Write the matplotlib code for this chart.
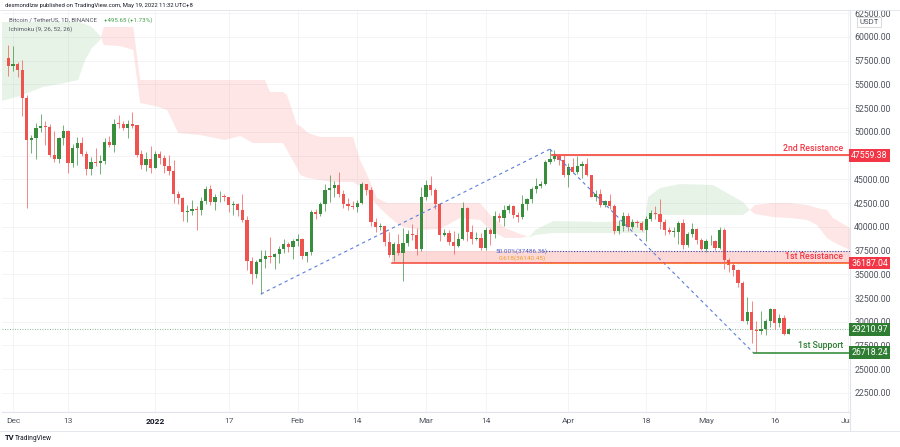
import numpy as np
import pandas as pd
import matplotlib
matplotlib.use('Agg')
import matplotlib.pyplot as plt
from matplotlib.transforms import Bbox, TransformedBbox

plt.rcParams['font.family'] = ['Roboto', 'DejaVu Sans']

# ---------------- data (BTC/USDT daily, Binance) ----------------
dates = pd.date_range('2021-11-30', '2022-05-19', freq='D')

opens = [57777,
	56950, 57184, 56484, 53601, 49152, 49397, 50441, 50589, 50471, 47535, 47140, 49389, 50053, 46702, 48336, 48864,
	47632, 46133, 46834, 46682, 46908, 48888, 48588, 50839, 50821, 50428, 50802, 50679, 47623, 46464, 47121,
	46216, 47722, 47286, 46446, 45833, 43451, 43082, 41566, 41679, 41864, 41822, 42735, 43949, 42592, 43099, 43177,
	43113, 42251, 42375, 41744, 40681, 36445, 35071, 36244, 36660, 36958, 36808, 37160, 37716, 38166, 37881,
	38466, 38694, 36896, 37311, 41571, 41382, 42380, 43839, 44043, 44373, 43495, 42373, 42217, 42053, 42535, 44544,
	43874, 40515, 39974, 40080, 38386, 37008, 38230, 37250, 38328, 39219, 39116, 37699,
	43160, 44421, 43892, 42455, 39148, 39397, 38420, 37988, 38730, 41941, 39422, 38730, 38807, 37777, 39671, 39280,
	41114, 40917, 41757, 42201, 41262, 41002, 42364, 42882, 43991, 44313, 44511, 46827, 47123, 47434, 47067,
	45511, 46283, 45811, 46407, 46581, 45497, 43170, 43444, 42252, 42753, 42158, 39530, 40074, 41147, 39942, 40552,
	40378, 39678, 40801, 41493, 41358, 40480, 39709, 39441, 39450, 40427, 38112, 39235, 39742, 38597,
	37631, 38469, 38525, 37729, 39690, 36552, 36013, 35472, 34039, 30074, 31017, 29104, 29030, 29287, 30102, 31305,
	29863, 30425, 28715]
highs = [59175,
	59053, 57375, 57600, 53859, 49699, 50891, 51936, 51200, 50797, 50125, 49485, 50777, 50189, 48700, 49500, 49436,
	47995, 47392, 48300, 47537, 49329, 49576, 51375, 51810, 51156, 51280, 52088, 50704, 48139, 47900, 48548,
	47954, 47990, 47570, 47557, 47070, 43816, 43145, 42300, 42786, 42248, 43100, 44322, 44459, 43459, 43800, 43476,
	43179, 42691, 42559, 43505, 41100, 36835, 36499, 37550, 37545, 38919, 37234, 38000, 38720, 38359, 38744,
	39265, 38856, 37387, 41772, 41913, 42656, 44500, 45492, 44799, 45821, 43920, 43000, 42760, 42876, 44751, 44549,
	44164, 40959, 40444, 40125, 39494, 38430, 39249, 39843, 39683, 40300, 39855, 44225,
	44949, 45400, 44102, 42527, 39794, 39640, 39547, 39362, 42594, 42039, 40236, 39486, 39310, 39947, 39887, 41718,
	41478, 42325, 42400, 42296, 41544, 43361, 43025, 44220, 45094, 44792, 46999, 48190, 48097, 47700, 47600,
	46720, 47213, 47444, 46890, 47200, 45507, 43900, 43970, 42800, 43410, 42414, 40699, 41561, 41500, 40870, 40709,
	40595, 41116, 41760, 42199, 42976, 40795, 39980, 39940, 40617, 40797, 39474, 40372, 39925, 38795,
	38675, 39167, 38651, 39980, 39845, 36675, 36146, 35514, 34244, 32658, 32162, 30033, 31083, 30343, 31460, 31305,
	30788, 30672, 29330]
lows = [55875,
	56458, 55777, 51680, 42000, 47727, 47100, 50039, 48600, 47320, 46852, 46751, 48638, 45672, 46290, 46547, 47511,
	45456, 45500, 46406, 45558, 46630, 48421, 47920, 50384, 50171, 49412, 50449, 47313, 46096, 45900, 45678,
	46208, 46654, 45696, 45500, 42500, 42430, 40610, 40501, 41200, 39650, 41268, 42451, 42311, 41725, 42578, 42693,
	41540, 41250, 41138, 40553, 35440, 34008, 34601, 32917, 35701, 36234, 35507, 36155, 37268, 37351, 36632,
	38000, 36586, 36250, 37026, 40843, 41116, 41645, 42666, 43117, 43174, 42000, 41748, 41867, 41570, 42427, 43307,
	40073, 39450, 39639, 38000, 36800, 36350, 37036, 34322, 38015, 38600, 37000, 37450,
	42809, 43334, 41832, 38550, 38988, 38088, 37155, 37867, 38656, 38540, 38223, 38660, 37578, 37555, 38098, 38828,
	40500, 40135, 41499, 40911, 40467, 40875, 41751, 42560, 43579, 44071, 44421, 46665, 46950, 46540, 45200,
	44200, 45620, 45530, 45118, 45353, 43121, 42727, 42107, 42125, 41868, 39200, 39254, 39588, 39551, 39766, 39991,
	39546, 38536, 40571, 40820, 39751, 39177, 39285, 38929, 38200, 37702, 37881, 38881, 38175, 37578,
	37386, 38052, 37517, 37670, 35571, 35258, 34785, 33713, 30033, 29730, 27785, 26700, 28751, 28630, 29480, 29192,
	29424, 28654, 28690]
closes = [56950,
	57184, 56480, 53601, 49152, 49397, 50441, 50588, 50471, 47545, 47140, 49389, 50053, 46702, 48343, 48864, 47632,
	46131, 46834, 46681, 46914, 48890, 48588, 50839, 50821, 50429, 50809, 50640, 47588, 46464, 47120, 46216,
	47722, 47286, 46446, 45833, 43452, 43083, 41566, 41679, 41864, 41822, 42735, 43949, 42592, 43099, 43177, 43113,
	42251, 42375, 41744, 40681, 36445, 35071, 36244, 36660, 36958, 36809, 37160, 37716, 38166, 37881, 38466,
	38694, 36896, 37311, 41574, 41382, 42380, 43839, 44043, 44372, 43495, 42373, 42217, 42053, 42535, 44544, 43873,
	40515, 39974, 40079, 38386, 37008, 38230, 37250, 38327, 39219, 39116, 37699, 43160,
	44421, 43892, 42455, 39148, 39397, 38420, 37988, 38730, 41941, 39422, 38730, 38807, 37777, 39671, 39281, 41114,
	40917, 41757, 42201, 41262, 41002, 42364, 42882, 43991, 44313, 44511, 46827, 47123, 47434, 47067, 45511,
	46283, 45811, 46407, 46580, 45497, 43170, 43444, 42252, 42753, 42158, 39530, 40074, 41147, 39942, 40552, 40378,
	39678, 40801, 41493, 41358, 40480, 39709, 39441, 39450, 40427, 38112, 39235, 39742, 38597, 37631,
	38468, 38525, 37729, 39690, 36552, 36014, 35472, 34038, 30077, 31017, 29104, 29031, 29287, 30102, 31305, 29862,
	30425, 28715, 29211]

# Ichimoku cloud (days since 1 Dec 2021)
cloud_days = [-2.4, 1.5, 6.5, 10.2, 14.2, 15.7, 17.2, 19.0, 19.8, 23.3, 26.2, 27.7, 31.0, 33.6, 36.0, 40.8,
	46.2, 49.5, 52.3, 54.9, 56.0, 58.8, 59.7, 61.9, 62.6, 64.3, 66.9, 69.7, 74.1, 75.6, 77.2, 79.3,
	81.5, 84.4, 88.7, 93.1, 97.4, 101.8, 104.0, 107.2, 110.5, 112.7, 113.8, 117.7, 128.0, 137.7, 138.4,
	141.0, 145.4, 152.6, 155.6, 159.1, 160.6, 161.7, 165.6, 169.3, 173.1, 175.2, 177.4, 178.7, 182.4]
span_a = [61580, 61580, 61580, 61580, 61580, 61370, 61054, 60105, 59157, 59052, 58630, 53047, 52731, 52310,
	49886, 49676, 49149, 49570, 48833, 48833, 48833, 48833, 48096, 46199, 45462, 45146, 44935, 44724, 44724,
	44303, 43670, 42301, 41248, 40089, 39668, 39773, 40932, 40721, 39668, 38825, 38825, 39035, 39668, 40616,
	40510, 40616, 43144, 44092, 44513, 44408, 43565, 42617, 41774, 41353, 41037, 40932, 40721, 40194, 38825,
	38403, 37561]
span_b = [53258, 53784, 54733, 55049, 55470, 57577, 58841, 59684, 61054, 61054, 61054, 55470, 55470, 55470,
	55470, 55470, 55470, 55470, 55470, 55470, 54206, 54206, 53890, 50729, 50624, 49886, 49465, 49465, 49465,
	47042, 45462, 43039, 42512, 42512, 42512, 42512, 42512, 42512, 41248, 39878, 39246, 38930, 39141, 39351,
	39351, 39351, 41248, 41248, 41248, 41248, 41248, 41248, 41774, 42301, 42512, 42512, 42301, 41985, 41774,
	40932, 39878]

# drawings
trend_days = [54, 117, 161.4]
trend_prices = [32917, 48190, 26718.24]
res2 = 47559.38
res1 = 36187.04
fib50 = 37486.36
fib618 = 36140.45
support1 = 26718.24
last_price = 29210.97

price_ticks = [22500, 25000, 27500, 30000, 32500, 35000, 37500, 40000, 42500, 45000,
	50000, 52500, 55000, 57500, 60000, 62500]
tick_days = [0, 12, 31, 47, 62, 75, 90, 103, 121, 138, 151, 166, 182]
tick_labels = ['Dec', '13', '2022', '17', 'Feb', '14', 'Mar', '14', 'Apr', '18', 'May', '16', 'Jun']

# ---------------- styling ----------------
GREEN = '#388e3c'
RED = '#ef5350'
LRED = '#f23645'
TXT = '#50535e'
GRID = '#f2f3f6'
BORDER = '#e0e3eb'

W, H = 900, 447
def fx(px): return px / W
def fy(py): return 1 - py / H

fig = plt.figure(figsize=(W / 100, H / 100), dpi=100)
fig.patch.set_facecolor('white')
ax = fig.add_axes([fx(2), fy(412), fx(850) - fx(2), fy(10) - fy(412)])

days = np.array([(d - pd.Timestamp('2021-12-01')).days for d in dates])
o = np.array(opens, float); h = np.array(highs, float)
l = np.array(lows, float); c = np.array(closes, float)

ax.set_xlim(-2.4, 182.4)
ax.set_ylim(20494, 62844)

# grid
for t in tick_days:
	ax.axvline(t, color=GRID, lw=0.6, zorder=0)
for p in price_ticks + [47500]:
	ax.axhline(p, color=GRID, lw=0.6, zorder=0)

# ichimoku cloud
ca = np.array(span_a, float); cb = np.array(span_b, float)
ax.fill_between(cloud_days, ca, cb, where=ca >= cb, interpolate=True, color='#43a047', alpha=0.12, lw=0, zorder=1)
ax.fill_between(cloud_days, ca, cb, where=ca < cb, interpolate=True, color='#f44336', alpha=0.13, lw=0, zorder=1)

# resistance zone
ax.fill_between([82.5, 182.4], [res1, res1], [fib50, fib50], color='#f44336', alpha=0.2, lw=0, zorder=1)

# candles
up = c >= o
cols = np.where(up, GREEN, RED)
ax.vlines(days, l, h, colors=cols, lw=0.7, alpha=0.7, zorder=3)
bot = np.minimum(o, c)
hgt = np.maximum(np.abs(c - o), 90)
ax.bar(days, hgt, bottom=bot, width=0.7, color=cols, lw=0, zorder=4)

# trend lines
ax.plot(trend_days[:2], trend_prices[:2], color='#5b7fd6', lw=0.8, dashes=(3, 3), zorder=5)
ax.plot(trend_days[1:], trend_prices[1:], color='#5b7fd6', lw=0.8, dashes=(3, 3), zorder=5)

# horizontal levels
ax.plot([117.5, 182.4], [res2, res2], color='#f44336', lw=1.2, zorder=5)
ax.plot([82.5, 182.4], [res1, res1], color='#f44336', lw=1.1, zorder=5)
ax.plot([115.5, 182.4], [fib618, fib618], color='#ff9800', lw=0.8, ls=(0, (1, 1.5)), zorder=5)
ax.plot([115.5, 182.4], [fib50, fib50], color='#3949ab', lw=0.8, ls=(0, (1, 1.5)), zorder=5)
ax.plot([161.4, 182.4], [support1, support1], color=GREEN, lw=1.2, zorder=5)
ax.axhline(last_price, color=GREEN, lw=0.6, ls=(0, (1, 2)), alpha=0.8, zorder=2)

ax.text(105.2, fib50, '50.00%(37486.36)', color='#4a5cc4', fontsize=4.6, ha='left', va='center', zorder=6)
ax.annotate('0.618(36140.45)', xy=(105.8, fib618), xytext=(0, 1.5), textcoords='offset points',
	color='#f0a030', fontsize=4.6, ha='left', va='bottom', zorder=6)

lab_x = (843 - 2) / 848
for txt, lvl, col in [('2nd Resistance', res2, LRED), ('1st Resistance', res1, LRED), ('1st Support', support1, '#2e7d32')]:
	ax.annotate(txt, xy=(lab_x, lvl), xycoords=('axes fraction', 'data'), xytext=(0, 1.8),
		textcoords='offset points', ha='right', va='bottom', color=col, fontsize=6.3,
		fontweight='medium', zorder=7)

# axes look
for s in ['top', 'left']:
	ax.spines[s].set_visible(False)
ax.spines['right'].set_color(BORDER)
ax.spines['bottom'].set_color(BORDER)
ax.spines['right'].set_linewidth(0.8)
ax.spines['bottom'].set_linewidth(0.8)

ax.yaxis.tick_right()
ax.set_yticks(price_ticks)
ax.set_yticklabels(['{:.2f}'.format(p) for p in price_ticks])
ax.tick_params(axis='y', length=0, pad=3, labelsize=6.3, labelcolor=TXT)
ax.set_xticks(tick_days)
ax.set_xticklabels(tick_labels)
ax.tick_params(axis='x', length=0, pad=4, labelsize=6.0, labelcolor=TXT)
xl = ax.get_xticklabels()
xl[2].set_fontweight('bold')
xl[2].set_color('#131722')
xl[-1].set_clip_box(TransformedBbox(Bbox([[0, 0], [fx(851), 1]]), fig.transFigure))
xl[-1].set_clip_on(True)

# price tags on the axis
for val, col in [(res2, LRED), (res1, LRED), (last_price, '#2e7d32'), (support1, '#2e7d32')]:
	ax.text(1.0015, val, '{:.2f}'.format(val), transform=ax.get_yaxis_transform(), ha='left', va='center',
		color='white', fontsize=6.3, zorder=10, clip_on=False,
		bbox=dict(boxstyle='square,pad=0.22', fc=col, ec='none'))

fig.text(fx(869), fy(22), 'USDT', ha='center', va='center', fontsize=5.6, color=TXT, zorder=10,
	bbox=dict(boxstyle='square,pad=0.25', fc='white', ec='#c9cbd1', lw=0.5))

# frame lines
fig.add_artist(plt.Line2D([0, 1], [fy(10), fy(10)], color=BORDER, lw=0.6))
fig.add_artist(plt.Line2D([0, 1], [fy(431), fy(431)], color=BORDER, lw=0.6))
fig.add_artist(plt.Line2D([fx(850), fx(850)], [fy(431), fy(412)], color=BORDER, lw=0.8))

# header texts
fig.text(fx(5), fy(5.5), 'desmondlzw published on TradingView.com, May 19, 2022 11:32 UTC+8',
	fontsize=4.2, color='#131722', ha='left', va='center')
fig.text(fx(9), fy(20.5), 'Bitcoin / TetherUS, 1D, BINANCE', fontsize=4.4, color=TXT, ha='left', va='center')
fig.text(fx(104), fy(20.5), '+495.65 (+1.73%)', fontsize=4.4, color='#43a047', ha='left', va='center')
fig.text(fx(9), fy(29.5), 'Ichimoku (9, 26, 52, 26)', fontsize=4.4, color=TXT, ha='left', va='center')

fig.text(fx(5), fy(438), 'TV', fontsize=5.5, fontweight='bold', color='#131722', ha='left', va='center')
fig.text(fx(15), fy(438), 'TradingView', fontsize=4.8, color='#131722', ha='left', va='center')

fig.savefig('out.png', dpi=100)
